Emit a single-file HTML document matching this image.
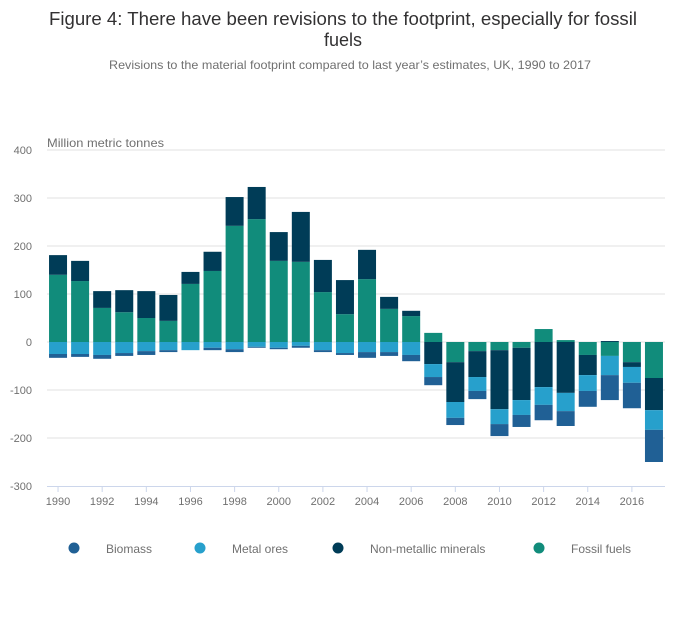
<!DOCTYPE html>
<html><head><meta charset="utf-8"><style>
html,body{margin:0;padding:0;background:#fff;}
svg{display:block;font-family:"Liberation Sans",sans-serif;}
</style></head><body>
<svg id="chart" width="700" height="635" viewBox="0 0 700 635" xmlns="http://www.w3.org/2000/svg">
<text x="343" y="25" text-anchor="middle" font-size="18" fill="#323132" textLength="588" lengthAdjust="spacingAndGlyphs">Figure 4: There have been revisions to the footprint, especially for fossil</text>
<text x="343" y="46" text-anchor="middle" font-size="18" fill="#323132">fuels</text>
<text x="350" y="69" text-anchor="middle" font-size="12" fill="#707070" textLength="482" lengthAdjust="spacingAndGlyphs">Revisions to the material footprint compared to last year’s estimates, UK, 1990 to 2017</text>
<text x="47" y="147" font-size="12" fill="#707070" textLength="117" lengthAdjust="spacingAndGlyphs">Million metric tonnes</text>
<g id="grid"></g><g id="bars"></g><g id="xaxis"></g>
<g font-size="12" fill="#707070">
<g><circle cx="74" cy="548" r="5.5" fill="#206095"/><text x="106" y="553">Biomass</text></g>
<g><circle cx="200" cy="548" r="5.5" fill="#27a0cc"/><text x="232" y="553">Metal ores</text></g>
<g><circle cx="338" cy="548" r="5.5" fill="#003c57"/><text x="370" y="553">Non-metallic minerals</text></g>
<g><circle cx="539" cy="548" r="5.5" fill="#118c7b"/><text x="571" y="553">Fossil fuels</text></g>
</g>
</svg>
<script>
const years=[1990,1991,1992,1993,1994,1995,1996,1997,1998,1999,2000,2001,2002,2003,2004,2005,2006,2007,2008,2009,2010,2011,2012,2013,2014,2015,2016,2017];
const fossilFuels=[140,127,71,62,50,44,121,148,242,256,169,167,104,58,131,69,54,19,-42,-19,-17,-12,27,4,-27,-29,-42,-75];
const nonMetallic=[41,42,35,46,56,54,25,40,60,67,60,104,67,71,61,25,11,-46,-83,-54,-123,-109,-94,-106,-42,2,-10,-67];
const metalOres=[-25,-25,-27,-23,-19,-17,-17,-12,-15,-10,-12,-8,-17,-23,-21,-21,-27,-27,-33,-29,-31,-31,-37,-38,-33,-40,-33,-41];
const biomass=[-8,-6,-8,-6,-8,-4,0,-5,-6,-2,-3,-4,-4,-4,-12,-8,-13,-17,-15,-17,-25,-25,-32,-31,-33,-52,-53,-67];
const yTicks=[400,300,200,100,0,-100,-200,-300];
const NS="http://www.w3.org/2000/svg";
const x0=47,x1=665,yTop=150,yBot=486,vMax=400,vMin=-300;
const band=(x1-x0)/years.length;
function y(v){return yTop+(vMax-v)/(vMax-vMin)*(yBot-yTop);}
function xc(i){return x0+band*(i+0.5);}
function mk(tag,attrs,parent){const e=document.createElementNS(NS,tag);for(const k in attrs)e.setAttribute(k,attrs[k]);parent.appendChild(e);return e;}
const grid=document.getElementById('grid');
yTicks.forEach(t=>{
  if(t!==vMin){const l=mk('line',{x1:x0,x2:x1,y1:y(t),y2:y(t),stroke:'#e0e0e0','stroke-width':1},grid);
  
  }
  const tx=mk('text',{x:32,y:y(t)+4,'text-anchor':'end','font-size':11,fill:'#707070'},grid);
  
  
  tx.textContent=t;
});
const series=[{n:'fossil-fuels',d:fossilFuels,c:'#118c7b'},{n:'non-metallic-minerals',d:nonMetallic,c:'#003c57'},{n:'metal-ores',d:metalOres,c:'#27a0cc'},{n:'biomass',d:biomass,c:'#206095'}];
const bars=document.getElementById('bars');
years.forEach((yr,i)=>{
  let pos=0,neg=0;
  series.forEach(s=>{
    const v=s.d[i];if(v===0)return;
    let a,b;
    if(v>0){a=pos;b=pos+v;pos=b;}else{a=neg;b=neg+v;neg=b;}
    const top=y(Math.max(a,b)),bot=y(Math.min(a,b));
    const r=mk('rect',{x:xc(i)-9,y:top,width:18,height:Math.max(bot-top,0.5),fill:s.c},bars);
    
    
  });
});
const xa=document.getElementById('xaxis');
const ax=mk('line',{x1:x0,x2:x1,y1:yBot+0.5,y2:yBot+0.5,stroke:'#ccd6eb','stroke-width':1},xa);


years.forEach((yr,i)=>{
  if(yr%2!==0)return;
  const tk=mk('line',{x1:xc(i),x2:xc(i),y1:yBot,y2:yBot+6,stroke:'#ccd6eb','stroke-width':1},xa);
  
  
  const t=mk('text',{x:xc(i),y:yBot+19,'text-anchor':'middle','font-size':11,fill:'#707070'},xa);
  
  
  t.textContent=yr;
});
</script>
</body></html>
